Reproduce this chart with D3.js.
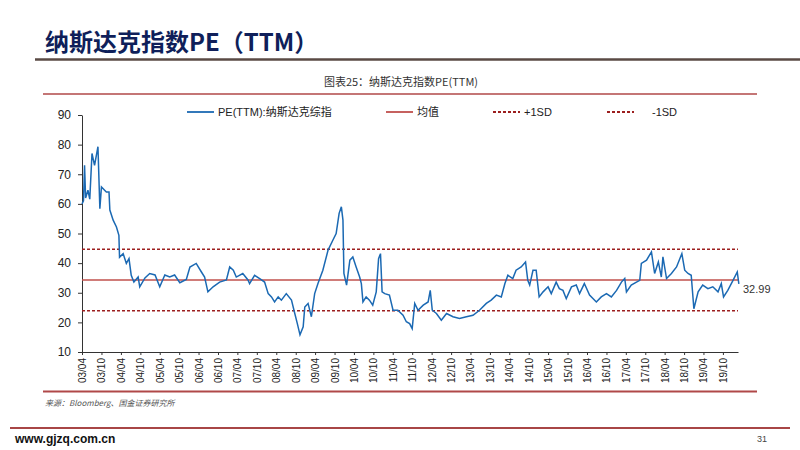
<!DOCTYPE html>
<head>
  <meta charset="utf-8">
  <style>
    body { margin: 0; background: #fff; }
    svg text { font-family: "Liberation Sans", Arial, "Noto Sans CJK SC", sans-serif; }
    .axis path, .axis line { stroke: #333; }
  </style>
</head>
<body>
  <svg width=800 height=450 id="chart"></svg>
  <script src="https://d3js.org/d3.v7.min.js"></script>
  <script>
    // PE(TTM) series
    const dates = [
      "2003-04-01","2003-04-15","2003-04-25","2003-05-05","2003-05-27","2003-06-13","2003-07-04","2003-07-28","2003-08-29","2003-09-16",
      "2003-10-01","2003-11-16","2003-12-11","2003-12-19","2004-01-19","2004-02-19","2004-03-13","2004-03-19","2004-04-22","2004-05-22",
      "2004-06-16","2004-07-07","2004-08-01","2004-09-10","2004-09-25","2004-11-13","2004-12-28","2005-02-16","2005-04-01","2005-05-19",
      "2005-07-04","2005-08-19","2005-10-07","2005-12-07","2006-01-10","2006-03-10","2006-04-28","2006-05-28","2006-06-28","2006-08-16",
      "2006-10-16","2006-12-19","2007-01-19","2007-02-22","2007-03-22","2007-05-22","2007-07-10","2007-07-25","2007-09-10","2007-10-28",
      "2007-12-13","2008-01-16","2008-02-16","2008-03-16","2008-04-19","2008-05-19","2008-07-04","2008-08-22","2008-09-22","2008-10-16",
      "2008-11-10","2008-12-10","2008-12-25","2009-01-25","2009-02-25","2009-03-28","2009-04-28","2009-06-13","2009-08-01","2009-09-16",
      "2009-10-16","2009-11-13","2009-12-04","2009-12-19","2009-12-28","2010-01-22","2010-02-22","2010-03-22","2010-04-22","2010-05-25",
      "2010-06-10","2010-06-25","2010-07-25","2010-08-25","2010-09-25","2010-10-28","2010-11-19","2010-12-07","2010-12-22","2011-01-16",
      "2011-03-01","2011-04-04","2011-05-19","2011-07-07","2011-08-07","2011-09-07","2011-10-01","2011-10-25","2011-11-25","2012-01-13",
      "2012-02-28","2012-03-19","2012-04-07","2012-05-16","2012-07-01","2012-08-19","2012-10-19","2012-12-19","2013-02-22","2013-04-25",
      "2013-06-25","2013-08-28","2013-10-13","2013-12-01","2014-01-16","2014-02-19","2014-03-19","2014-05-04","2014-06-04","2014-07-22",
      "2014-09-01","2014-09-22","2014-10-10","2014-11-10","2014-12-10","2015-01-07","2015-02-13","2015-04-01","2015-05-01","2015-06-16",
      "2015-07-16","2015-08-19","2015-09-19","2015-11-07","2015-12-22","2016-01-22","2016-03-07","2016-04-25","2016-06-28","2016-08-13",
      "2016-10-01","2016-11-16","2017-01-04","2017-02-19","2017-03-22","2017-04-07","2017-05-22","2017-07-10","2017-08-10","2017-08-25",
      "2017-10-13","2017-11-28","2017-12-28","2018-02-01","2018-03-01","2018-03-16","2018-04-19","2018-06-04","2018-07-22","2018-09-10",
      "2018-10-07","2018-11-07","2018-12-07","2019-01-01","2019-02-10","2019-03-25","2019-05-13","2019-06-28","2019-08-16","2019-09-16",
      "2019-10-07","2019-11-16","2020-01-04","2020-02-13","2020-02-28"
    ];
    const pe = [
      60, 61, 73, 62, 64.6, 61.6, 77, 73, 79.3, 58.4,
      65.7, 64, 64, 57.9, 54.5, 52.2, 49.4, 42, 43.2, 39.9,
      41.5, 35.9, 33.6, 35.3, 32, 35, 36.5, 36, 32, 36,
      35.3, 36, 33.4, 34.5, 38.7, 39.9, 37, 35.3, 30.3, 32,
      33.6, 34.3, 38.7, 37.6, 35.3, 36.5, 34.3, 33.1, 35.9, 34.8,
      33.6, 29.7, 28.6, 26.9, 28.6, 27.5, 29.7, 27.5, 23, 19.6,
      15.8, 18.5, 25.2, 26.4, 21.9, 29.7, 33.1, 37.6, 44.4, 47.8,
      50, 56.8, 59, 54.5, 36.5, 32.6, 41, 42.1, 38.7, 35.3,
      33.1, 26.9, 28.6, 27.5, 25.8, 30.3, 41.5, 43.2, 30.3, 29.7,
      29.2, 24.1, 24.1, 22.4, 20.2, 19.6, 17.9, 26.4, 24.1, 25.8,
      26.9, 30.8, 24.1, 23, 20.7, 23, 21.9, 21.3, 21.9, 22.4,
      24.1, 26.4, 27.5, 29.2, 28.6, 33.1, 35.9, 34.8, 37.6, 38.7,
      40.4, 34.2, 32.6, 37.6, 37.6, 28.6, 30.3, 32, 29.7, 33.6,
      31.4, 30.8, 28, 32, 32.6, 29.7, 33.1, 29.2, 26.9, 28.6,
      29.7, 28.6, 30.8, 33.6, 34.8, 30.3, 32.6, 33.6, 34.2, 39.9,
      41, 43.8, 36.5, 40.4, 35.3, 42.1, 34.8, 36.5, 38.7, 43.2,
      37.6, 36.5, 35.9, 24.6, 30.3, 32.6, 31.4, 32, 30.3, 33.1,
      28.6, 30.8, 34.2, 37, 32.99
    ];
    const meanPE = 34.3, plusSD = 44.7, minusSD = 23.9;
    const yTicks = [10, 20, 30, 40, 50, 60, 70, 80, 90];
    const legendLabels = ["PE(TTM):纳斯达克综指", "均值", "+1SD", "-1SD"];

    const svg = d3.select("#chart");
    const parse = d3.timeParse("%Y-%m-%d");
    const data = dates.map((d, i) => ({date: parse(d), v: pe[i]}));

    const x = d3.scaleTime()
      .domain([parse("2003-04-01"), parse("2020-02-20")])
      .range([82, 738]);
    const y = d3.scaleLinear().domain([10, 90]).range([352, 115]);

    // page header
    svg.append("text")
      .attr("x", 45).attr("y", 51)
      .style("font-family", "'Noto Sans CJK SC', sans-serif")
      .style("font-size", "24px").style("font-weight", "bold")
      .attr("fill", "#0f1f5a")
      .text("纳斯达克指数PE（TTM）");
    svg.append("line").attr("x1", 35).attr("x2", 800).attr("y1", 59.5).attr("y2", 59.5)
      .attr("stroke", "#5a4a44").attr("stroke-width", 2.5);

    svg.append("text")
      .attr("x", 401).attr("y", 86).attr("text-anchor", "middle")
      .style("font-family", "'Noto Sans CJK SC', sans-serif")
      .style("font-size", "11px")
      .attr("fill", "#333")
      .text("图表25：纳斯达克指数PE(TTM)");
    svg.append("line").attr("x1", 43).attr("x2", 757).attr("y1", 94).attr("y2", 94)
      .attr("stroke", "#b04848").attr("stroke-width", 1.5);

    // axes
    const yAxis = svg.append("g").attr("class", "axis")
      .attr("transform", "translate(82,0)")
      .call(d3.axisLeft(y).tickValues(yTicks).tickSize(4).tickSizeOuter(0));
    yAxis.selectAll("text").style("font-size", "12px").attr("fill", "#222").attr("x", -11);

    // half-year ticks starting at 03/04
    const xTicks = d3.timeMonth.range(parse("2003-04-01"), parse("2019-10-02"), 6);
    const xAxis = svg.append("g").attr("class", "axis")
      .attr("transform", "translate(0,352)")
      .call(d3.axisBottom(x).tickValues(xTicks).tickFormat(d3.timeFormat("%y/%m")).tickSize(3).tickSizeOuter(0));
    xAxis.selectAll("text")
      .style("font-size", "10px").attr("fill", "#222")
      .attr("transform", "rotate(-90)")
      .attr("x", -6).attr("y", 0).attr("dy", "0.35em")
      .attr("text-anchor", "end");

    // reference lines
    const refs = [
      {v: meanPE, color: "#c0504d", dash: null},
      {v: plusSD, color: "#9c1f1f", dash: "3,2"},
      {v: minusSD, color: "#9c1f1f", dash: "3,2"}
    ];
    svg.selectAll(".ref").data(refs).enter().append("line")
      .attr("class", "ref")
      .attr("x1", x.range()[0]).attr("x2", x.range()[1])
      .attr("y1", d => y(d.v)).attr("y2", d => y(d.v))
      .attr("stroke", d => d.color)
      .attr("stroke-width", 1.5)
      .attr("stroke-dasharray", d => d.dash);

    // the series
    svg.append("path").datum(data)
      .attr("fill", "none")
      .attr("stroke", "#1b69b3")
      .attr("stroke-width", 1.5)
      .attr("d", d3.line().x(d => x(d.date)).y(d => y(d.v)));

    svg.append("text")
      .attr("x", 743).attr("y", 293)
      .style("font-size", "11px").attr("fill", "#333")
      .text(d3.format(".2f")(pe[pe.length - 1]));

    // legend
    const legend = [
      {x: 187, color: "#1b69b3", dash: null},
      {x: 386, color: "#c0504d", dash: null},
      {x: 493, color: "#9c1f1f", dash: "3,2"},
      {x: 607, color: "#9c1f1f", dash: "3,2"}
    ];
    const lg = svg.selectAll(".lg").data(legend).enter().append("g").attr("class", "lg")
      .attr("transform", d => `translate(${d.x},112)`);
    lg.append("line").attr("x1", 0).attr("x2", 27)
      .attr("stroke", d => d.color).attr("stroke-width", 1.8)
      .attr("stroke-dasharray", d => d.dash);
    lg.append("text").attr("x", (d, i) => i == 3 ? 45 : 31).attr("dy", "0.35em")
      .style("font-size", "11px").attr("fill", "#222")
      .text((d, i) => legendLabels[i]);

    // bottom rule, source, footer
    svg.append("line").attr("x1", 43).attr("x2", 757).attr("y1", 391.5).attr("y2", 391.5)
      .attr("stroke", "#b04848").attr("stroke-width", 2);
    svg.append("text")
      .attr("x", 45).attr("y", 406)
      .style("font-family", "'Noto Sans CJK SC', sans-serif")
      .style("font-size", "8px").style("font-style", "italic")
      .attr("fill", "#555")
      .text("来源：Bloomberg、国金证券研究所");

    svg.append("line").attr("x1", 10).attr("x2", 790).attr("y1", 428).attr("y2", 428)
      .attr("stroke", "#a84646").attr("stroke-width", 2);
    svg.append("text")
      .attr("x", 15).attr("y", 443)
      .style("font-size", "12px").style("font-weight", "bold")
      .attr("fill", "#111")
      .text("www.gjzq.com.cn");
    svg.append("text")
      .attr("x", 757).attr("y", 442)
      .style("font-size", "9px").attr("fill", "#444")
      .text("31");
  </script>
</body>
